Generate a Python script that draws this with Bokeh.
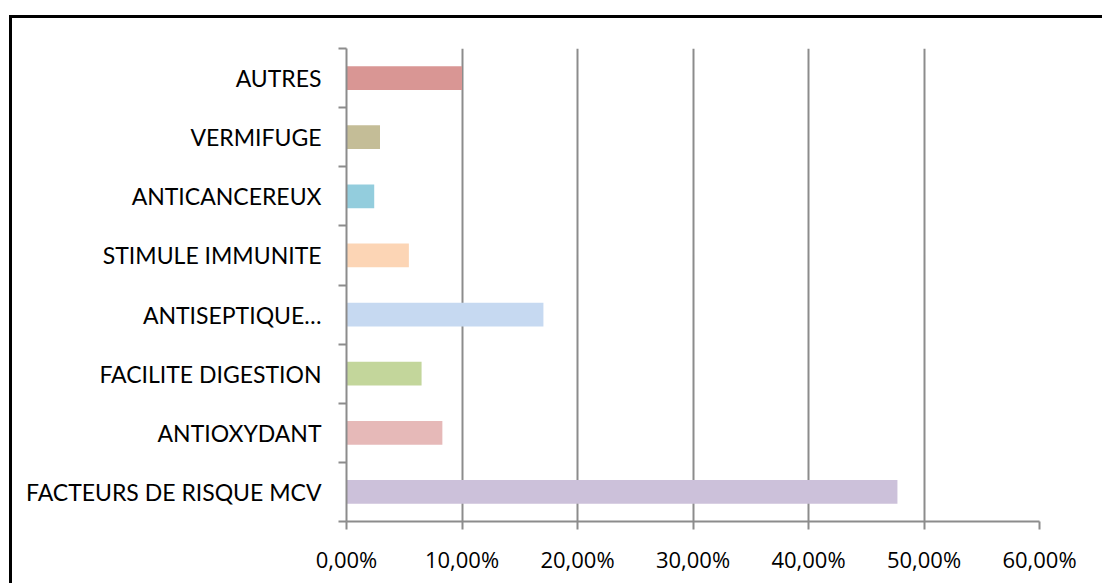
from bokeh.plotting import figure
from bokeh.models import FixedTicker, ColumnDataSource
from bokeh.embed import file_html
from bokeh.resources import INLINE

categories = ["FACTEURS DE RISQUE MCV", "ANTIOXYDANT", "FACILITE DIGESTION",
              "ANTISEPTIQUE…", "STIMULE IMMUNITE", "ANTICANCEREUX", "VERMIFUGE", "AUTRES"]
values = [0.477, 0.083, 0.065, 0.1705, 0.054, 0.024, 0.029, 0.100]
colors = ["#CCC1DA", "#E6B9B8", "#C3D69B", "#C6D9F1", "#FCD5B5", "#93CDDD", "#C4BD97", "#D99694"]
x_ticks = [0.0, 0.1, 0.2, 0.3, 0.4, 0.5, 0.6]
x_labels = ["0,00%", "10,00%", "20,00%", "30,00%", "40,00%", "50,00%", "60,00%"]

YFONT = "Lato"
XFONT = "Open Sans"
W, H = 1093, 568

pos = [i + 0.5 for i in range(len(categories))]
src = ColumnDataSource(dict(y=pos, v=values, c=colors))

p = figure(width=W, height=H, x_range=(0, 0.6), y_range=(0, len(categories)),
           output_backend="svg", toolbar_location=None,
           min_border_left=337, min_border_right=63, min_border_top=33, min_border_bottom=62)
p.styles = {"box-shadow": "inset 3px 3px 0px 0px black",
            "background-color": "white",
            "margin-left": "9px", "margin-top": "15px"}
p.border_fill_color = None
p.outline_line_color = None
p.hbar(y="y", right="v", left=0, height=0.4, fill_color="c", line_color=None, source=src)

GRAY = "#8C8C8C"
p.xaxis.ticker = FixedTicker(ticks=x_ticks)
p.xaxis.major_label_overrides = {t: l for t, l in zip(x_ticks, x_labels)}
p.xaxis.axis_line_color = GRAY
p.xaxis.axis_line_width = 2
p.xaxis.major_tick_line_color = GRAY
p.xaxis.major_tick_line_width = 2
p.xaxis.major_tick_in = 0
p.xaxis.major_tick_out = 8
p.xaxis.minor_tick_line_color = None
p.xaxis.major_label_standoff = 14
p.xaxis.major_label_text_font = XFONT
p.xaxis.major_label_text_font_size = "22px"
p.xaxis.major_label_text_color = "black"

p.yaxis.ticker = FixedTicker(ticks=pos, minor_ticks=list(range(len(categories) + 1)))
p.yaxis.major_label_overrides = {t: l for t, l in zip(pos, categories)}
p.yaxis.axis_line_color = GRAY
p.yaxis.axis_line_width = 2
p.yaxis.major_tick_line_color = None
p.yaxis.minor_tick_line_color = GRAY
p.yaxis.minor_tick_line_width = 2
p.yaxis.minor_tick_in = 0
p.yaxis.minor_tick_out = 8
p.yaxis.major_label_standoff = 17
p.yaxis.major_label_text_font = YFONT
p.yaxis.major_label_text_font_size = "23px"
p.yaxis.major_label_text_color = "black"

p.xgrid.ticker = FixedTicker(ticks=x_ticks)
p.xgrid.grid_line_color = GRAY
p.xgrid.grid_line_width = 2
p.ygrid.grid_line_color = None

open("out.html", "w").write(file_html(p, INLINE))
